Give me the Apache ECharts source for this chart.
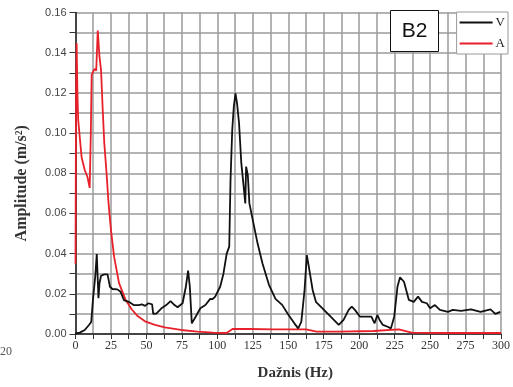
<!DOCTYPE html>
<html>
<head>
<meta charset="utf-8">
<script src="https://cdn.jsdelivr.net/npm/echarts@6/dist/echarts.min.js"></script>
<style>
  html, body { margin: 0; padding: 0; background: #fff; }
  #chart { width: 513px; height: 387px; }
</style>
</head>
<body>
<div id="chart"></div>
<script>
// Spectrum: frequency (Hz) and amplitude (m/s^2)
const vFreq = [0, 3.1, 6.5, 9.5, 11.1, 12.3, 13.9, 15, 16.2, 16.9, 18, 20.3, 22.6, 24.3, 26, 29.5, 31.8, 34.1, 37.6, 41, 44.5, 46.8, 49, 51.4, 54, 54.8, 57, 60.6, 64, 67, 69.8, 72, 75.5, 77.8, 79.4, 80.6, 82, 83, 84.7, 88, 91.6, 95, 96.5, 98.5, 100.8, 102, 104.3, 106.6, 108.4, 109.3, 110.5, 111.6, 112.8, 113.9, 115.3, 116.9, 118.1, 119.7, 120.3, 121.5, 122.6, 125, 128.4, 131.9, 136.4, 141, 145.7, 150.2, 154.3, 157, 159.2, 161.5, 163.1, 164.5, 167.2, 169.5, 174.1, 179.9, 185.6, 189, 192.6, 194.8, 197, 200.6, 206, 208.6, 210.9, 212.8, 214.4, 216.7, 220.1, 222.4, 224.7, 227, 228.8, 231.6, 235, 238.5, 241.5, 244.3, 247.7, 250, 253.4, 256.9, 262.6, 266, 271.9, 278.8, 285.6, 292.6, 296, 299.5];
const vAmp = [0.0003, 0.0007, 0.002, 0.0045, 0.006, 0.017, 0.0285, 0.0398, 0.0178, 0.0252, 0.029, 0.0297, 0.0297, 0.0235, 0.0224, 0.0222, 0.021, 0.0169, 0.016, 0.0144, 0.0144, 0.0148, 0.014, 0.0153, 0.0148, 0.010, 0.0102, 0.0128, 0.0144, 0.0164, 0.0144, 0.0133, 0.0153, 0.0235, 0.0315, 0.0235, 0.0053, 0.0045, 0.0086, 0.0128, 0.0144, 0.0175, 0.0173, 0.0186, 0.0219, 0.0235, 0.030, 0.040, 0.0435, 0.0767, 0.1015, 0.113, 0.1198, 0.1148, 0.105, 0.085, 0.0767, 0.065, 0.0833, 0.079, 0.065, 0.0567, 0.045, 0.035, 0.0245, 0.0175, 0.0145, 0.0095, 0.0053, 0.0028, 0.006, 0.0219, 0.0393, 0.0335, 0.0219, 0.016, 0.0128, 0.0086, 0.0045, 0.007, 0.012, 0.0136, 0.012, 0.0086, 0.0086, 0.0086, 0.0053, 0.0095, 0.007, 0.0045, 0.0036, 0.0028, 0.0086, 0.0235, 0.0282, 0.026, 0.017, 0.016, 0.0186, 0.016, 0.0153, 0.0128, 0.0144, 0.012, 0.011, 0.012, 0.0115, 0.0123, 0.011, 0.0123, 0.010, 0.011];

const aFreq = [0, 0.4, 0.8, 1.4, 1.9, 4.3, 6.5, 8.5, 10, 10.8, 11.4, 13.4, 14.6, 15.7, 16.9, 18, 19.2, 20.3, 21.9, 23.3, 25, 27.2, 30.7, 35.3, 39.7, 44, 49, 56, 63, 74.3, 86, 97, 106.5, 111, 122.6, 140, 157, 162.6, 170, 186, 210, 228, 237, 260, 300];
const aAmp = [0.035, 0.12, 0.1447, 0.118, 0.1065, 0.088, 0.0816, 0.078, 0.0727, 0.10, 0.129, 0.132, 0.131, 0.151, 0.138, 0.1314, 0.1115, 0.095, 0.080, 0.065, 0.0518, 0.0385, 0.0253, 0.017, 0.0122, 0.0088, 0.0063, 0.0045, 0.0033, 0.002, 0.0012, 0.0007, 0.0005, 0.0026, 0.0025, 0.0023, 0.0023, 0.0023, 0.0012, 0.0012, 0.0015, 0.0023, 0.0007, 0.0005, 0.0005];

const xTicks = { min: 0, max: 300, step: 12.5, labelEvery: 25 };
const yTicks = { min: 0, max: 0.16, step: 0.01, labelEvery: 0.02 };

const chart = echarts.init(document.getElementById('chart'), null, { renderer: 'canvas' });

const zip = (xs, ys) => xs.map((x, i) => [x, ys[i]]);
const gridColor = '#9a9a9a';

chart.setOption({
  backgroundColor: '#fff',
  animation: false,
  grid: { left: 75.5, right: 3, top: 12.5, bottom: 53 },
  xAxis: {
    type: 'value',
    min: xTicks.min,
    max: xTicks.max,
    interval: xTicks.step,
    name: 'Dažnis (Hz)',
    nameLocation: 'middle',
    nameGap: 32,
    nameTextStyle: { fontFamily: 'Liberation Serif', fontWeight: 'bold', fontSize: 15, color: '#333', padding: [0, 0, 0, 14] },
    axisLine: { show: true, onZero: false, lineStyle: { color: '#222', width: 1.5 } },
    axisTick: { show: true, inside: false, length: 5, lineStyle: { color: '#333' } },
    axisLabel: {
      fontFamily: 'Liberation Serif', fontSize: 12, color: '#333', margin: 6,
      formatter: v => (Math.abs(v % xTicks.labelEvery) < 1e-6 ? String(v) : '')
    },
    splitLine: { show: true, lineStyle: { color: gridColor, width: 1.5 } }
  },
  yAxis: {
    type: 'value',
    min: yTicks.min,
    max: yTicks.max,
    interval: yTicks.step,
    name: 'Amplitude (m/s²)',
    nameLocation: 'middle',
    nameGap: 46,
    nameRotate: 90,
    nameTextStyle: { fontFamily: 'Liberation Serif', fontWeight: 'bold', fontSize: 16, color: '#333', padding: [0, 20, 0, 0] },
    axisLine: { show: true, lineStyle: { color: '#222', width: 1.5 } },
    axisTick: { show: true, inside: false, length: 6, lineStyle: { color: '#333' } },
    axisLabel: {
      fontFamily: 'Liberation Sans', fontSize: 11, color: '#444', margin: 9,
      formatter: v => {
        const k = Math.round(v / yTicks.step);
        return k % 2 === 0 ? v.toFixed(2) : '';
      }
    },
    splitLine: { show: true, lineStyle: { color: gridColor, width: 1.5 } }
  },
  legend: {
    show: true,
    right: 5,
    top: 12,
    orient: 'vertical',
    itemWidth: 33,
    itemHeight: 2,
    itemGap: 8,
    padding: [4, 3, 4, 3],
    backgroundColor: '#fff',
    borderColor: '#999',
    borderWidth: 1,
    icon: 'rect',
    textStyle: { fontFamily: 'Liberation Serif', fontSize: 13, color: '#222', padding: [0, 0, 0, -2] },
    data: ['V', 'A']
  },
  graphic: [
    {
      type: 'group',
      left: 390,
      top: 10,
      z: 100,
      children: [
        { type: 'rect', z: 100, shape: { x: 0, y: 0, width: 48, height: 41 }, style: { fill: '#fff', stroke: '#111', lineWidth: 1 } },
        { type: 'text', z: 101, x: 24, y: 21, style: { text: 'B2', font: '21px "Liberation Sans"', fill: '#111', align: 'center', verticalAlign: 'middle' } }
      ]
    },
    { type: 'text', left: 0, top: 346, style: { text: '20', font: '12px "Liberation Serif"', fill: '#555' } }
  ],
  series: [
    {
      name: 'V',
      type: 'line',
      data: zip(vFreq, vAmp),
      showSymbol: false,
      color: '#111',
      lineStyle: { width: 1.8, color: '#111' },
      z: 3
    },
    {
      name: 'A',
      type: 'line',
      data: zip(aFreq, aAmp),
      showSymbol: false,
      color: '#e8202a',
      lineStyle: { width: 1.8, color: '#e8202a' },
      z: 2
    }
  ]
});
</script>
</body>
</html>
